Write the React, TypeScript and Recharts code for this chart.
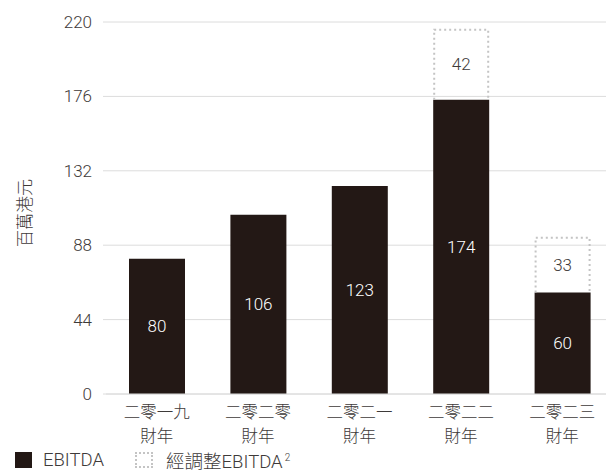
import React from 'react';
import { BarChart, Bar, XAxis, YAxis, CartesianGrid, LabelList } from 'recharts';

const categories = ['二零一九', '二零二零', '二零二一', '二零二二', '二零二三'];
const subLabel = '財年';
const ebitdaValues = [80, 106, 123, 174, 60];
const adjustedExtra = [null, null, null, 42, 33];
const yTicks = [0, 44, 88, 132, 176, 220];
const yAxisTitle = '百萬港元';
const legendNames = ['EBITDA', '經調整EBITDA'];

const data = categories.map((c, i) => ({ name: c, ebitda: ebitdaValues[i], adj: adjustedExtra[i] }));

const FONT = "Roboto, 'Noto Sans CJK TC', sans-serif";
const W = 300;
const TEXT = '#3e3a39';
const DARK = '#231815';
const GRID = '#dcdcdc';
const DOT = '#c4c4c4';

const DottedBox = (props: any) => {
  const { x, y, width, height } = props;
  if (!height) return null;
  const d = `M${x + 1},${y + height} L${x + 1},${y + 1} L${x + width - 1},${y + 1} L${x + width - 1},${y + height}`;
  return <path d={d} fill="none" stroke={DOT} strokeWidth={2} strokeDasharray="2 3" />;
};

const XTick = (props: any) => {
  const { x, y, payload } = props;
  return (
    <g>
      <text x={x} y={y} dy={16} textAnchor="middle" fill={TEXT} fontSize={16.5} fontWeight={W} fontFamily={FONT}>{payload.value}</text>
      <text x={x} y={y} dy={40} textAnchor="middle" fill={TEXT} fontSize={16.5} fontWeight={W} fontFamily={FONT}>{subLabel}</text>
    </g>
  );
};

export default function App() {
  return (
    <div style={{ position: 'absolute', left: 0, top: 0, width: 606, height: 474, overflow: 'hidden', background: '#fff', fontFamily: FONT }}>
      <BarChart width={620} height={474} data={data} margin={{ top: 22, right: 7, left: 0, bottom: 30 }} barSize={56}>
        <CartesianGrid vertical={false} stroke={GRID} />
        <XAxis dataKey="name" axisLine={{ stroke: GRID }} tickLine={false} tick={<XTick />} height={50} interval={0} />
        <YAxis domain={[0, 220]} ticks={yTicks} width={106} axisLine={false} tickLine={{ stroke: GRID }} tickSize={3} tickMargin={11}
          tick={{ fill: TEXT, fontSize: 17, fontWeight: W, fontFamily: FONT }} />
        <Bar dataKey="ebitda" stackId="a" fill={DARK} isAnimationActive={false}>
          <LabelList dataKey="ebitda" position="center" fill="#ffffff" fontSize={17} fontWeight={W} fontFamily={FONT} />
        </Bar>
        <Bar dataKey="adj" stackId="a" shape={<DottedBox />} isAnimationActive={false}>
          <LabelList dataKey="adj" position="center" fill={TEXT} fontSize={17} fontWeight={W} fontFamily={FONT} />
        </Bar>
      </BarChart>
      <svg width={40} height={474} style={{ position: 'absolute', left: 0, top: 0 }}>
        <text x={25} y={213} transform="rotate(-90, 25, 213)" textAnchor="middle" dominantBaseline="central" fill={TEXT} fontSize={17} fontWeight={W} fontFamily={FONT}>{yAxisTitle}</text>
      </svg>
      <div style={{ position: 'absolute', left: 15, top: 450, height: 20, display: 'flex', alignItems: 'center', fontSize: 18.5, fontWeight: W, color: TEXT, fontFamily: FONT, lineHeight: '20px', whiteSpace: 'nowrap' }}>
        <span style={{ display: 'inline-block', width: 17, height: 16, background: DARK }} />
        <span style={{ marginLeft: 11 }}>{legendNames[0]}</span>
        <span style={{ display: 'inline-block', width: 18, height: 16, border: `2px dotted ${DOT}`, marginLeft: 31, boxSizing: 'border-box' }} />
        <span style={{ marginLeft: 13 }}>{legendNames[1]}<sup style={{ fontSize: 10, marginLeft: 2, verticalAlign: 7 }}>2</sup></span>
      </div>
    </div>
  );
}
